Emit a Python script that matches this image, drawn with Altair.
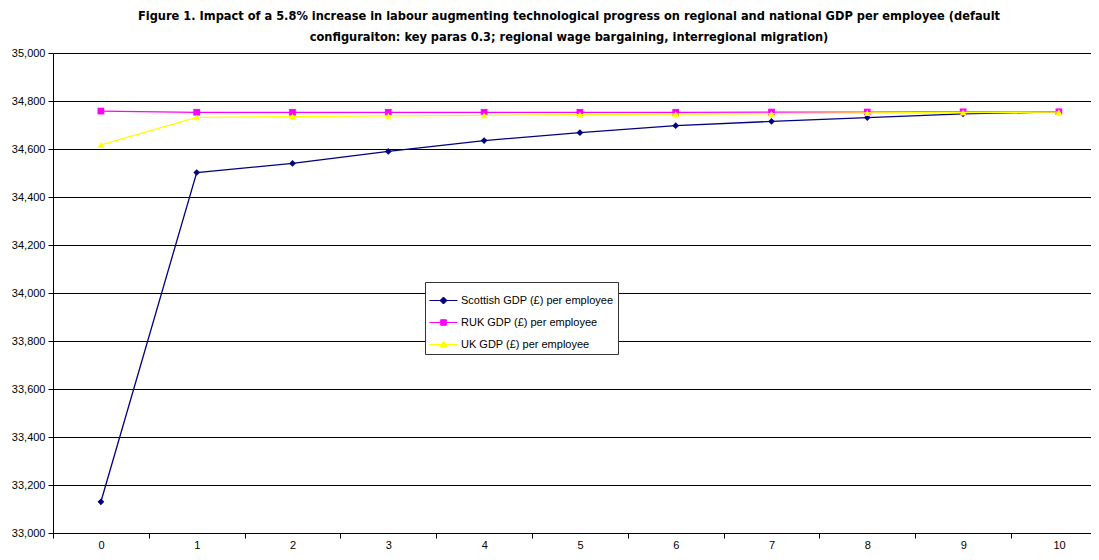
import altair as alt
import pandas as pd

periods = [0, 1, 2, 3, 4, 5, 6, 7, 8, 9, 10]
scottish = [33130, 34502, 34540, 34590, 34635, 34668, 34697, 34715, 34731, 34746, 34755]
ruk = [34758, 34753, 34753, 34753, 34753, 34753, 34753, 34754, 34754, 34755, 34755]
uk = [34617, 34732, 34735, 34738, 34740, 34743, 34745, 34747, 34750, 34752, 34754]

series_names = [
    "Scottish GDP (£) per employee",
    "RUK GDP (£) per employee",
    "UK GDP (£) per employee",
]
series_colors = ["#000080", "#FF00FF", "#FFFF00"]
marker_shapes = ["diamond", "square", "triangle-up"]
legend_paths = [
    "M-1,0L1,0M0,-0.25L0.25,0L0,0.25L-0.25,0Z",
    "M-1,0L1,0M-0.2,-0.2L0.2,-0.2L0.2,0.2L-0.2,0.2Z",
    "M-1,0L1,0M0,-0.24L0.24,0.18L-0.24,0.18Z",
]
y_ticks = [33000, 33200, 33400, 33600, 33800, 34000, 34200, 34400, 34600, 34800, 35000]
x_tick_positions = [-0.5, 0.5, 1.5, 2.5, 3.5, 4.5, 5.5, 6.5, 7.5, 8.5, 9.5]

title_lines = [
    "Figure 1. Impact of a 5.8% increase in labour augmenting technological progress on regional and national GDP per employee (default",
    "configuraiton: key paras 0.3; regional wage bargaining, interregional migration)",
]

rows = []
for name, vals in zip(series_names, [scottish, ruk, uk]):
    for p, v in zip(periods, vals):
        rows.append({"period": p, "value": v, "series": name})
df = pd.DataFrame(rows)

x_enc = alt.X(
    "period:Q",
    scale=alt.Scale(domain=[-0.5, 10.335], nice=False, zero=False),
    axis=alt.Axis(
        values=x_tick_positions,
        labelExpr="format(datum.value + 0.5, 'd')",
        labelOffset=48,
        labelFlush=False,
        labelOverlap=False,
        title=None,
        grid=False,
        tickSize=5,
        labelPadding=1,
    ),
)
y_enc = alt.Y(
    "value:Q",
    scale=alt.Scale(domain=[33000, 35000], nice=False, zero=False),
    axis=alt.Axis(
        values=y_ticks,
        format=",d",
        title=None,
        grid=True,
        gridColor="#000000",
        gridWidth=1,
        tickSize=5,
        labelPadding=3,
    ),
)

base = alt.Chart(df)
layers = []
for name, color, shape in zip(series_names, series_colors, marker_shapes):
    sub = base.transform_filter(alt.datum.series == name)
    layers.append(
        sub.mark_line(color=color, strokeWidth=1.3).encode(x=x_enc, y=y_enc)
    )
    layers.append(
        sub.mark_point(shape=shape, filled=True, size=45, color=color, opacity=1).encode(
            x=x_enc, y=y_enc
        )
    )

leg = alt.Legend(title=None, orient="none", legendX=372, legendY=229)
legend_layer = (
    base.transform_filter("false")
    .mark_point(filled=True, opacity=1, strokeWidth=1)
    .encode(
        x=x_enc,
        y=y_enc,
        shape=alt.Shape("series:N", scale=alt.Scale(domain=series_names, range=legend_paths), legend=leg),
        fill=alt.Fill("series:N", scale=alt.Scale(domain=series_names, range=series_colors), legend=leg),
        stroke=alt.Stroke("series:N", scale=alt.Scale(domain=series_names, range=series_colors), legend=leg),
    )
)
layers.append(legend_layer)

chart = (
    alt.layer(*layers)
    .properties(
        width=1038,
        height=480,
        autosize=alt.AutoSizeParams(type="none"),
        padding={"left": 45, "top": 45, "right": 0, "bottom": 19},
        background="white",
        title=alt.TitleParams(
            text=title_lines,
            font="Liberation Sans Narrow, DejaVu Sans Condensed, Liberation Sans, sans-serif",
            fontSize=12.7,
            fontWeight="bold",
            color="black",
            anchor="middle",
            frame="group",
            lineHeight=21,
            offset=3,
            dx=-3,
        ),
    )
    .configure_view(stroke=None)
    .configure_axis(
        labelFont="Liberation Sans",
        labelFontSize=11,
        labelColor="black",
        domainColor="black",
        tickColor="black",
    )
    .configure_legend(
        fillColor="white",
        strokeColor="#333333",
        padding=4,
        labelFont="Liberation Sans",
        labelFontSize=11,
        labelColor="black",
        symbolSize=784,
        symbolStrokeWidth=1,
        symbolOpacity=1,
        rowPadding=2,
        labelOffset=3,
    )
)

chart.save("out.html", embed_options={"renderer": "svg", "actions": False})
